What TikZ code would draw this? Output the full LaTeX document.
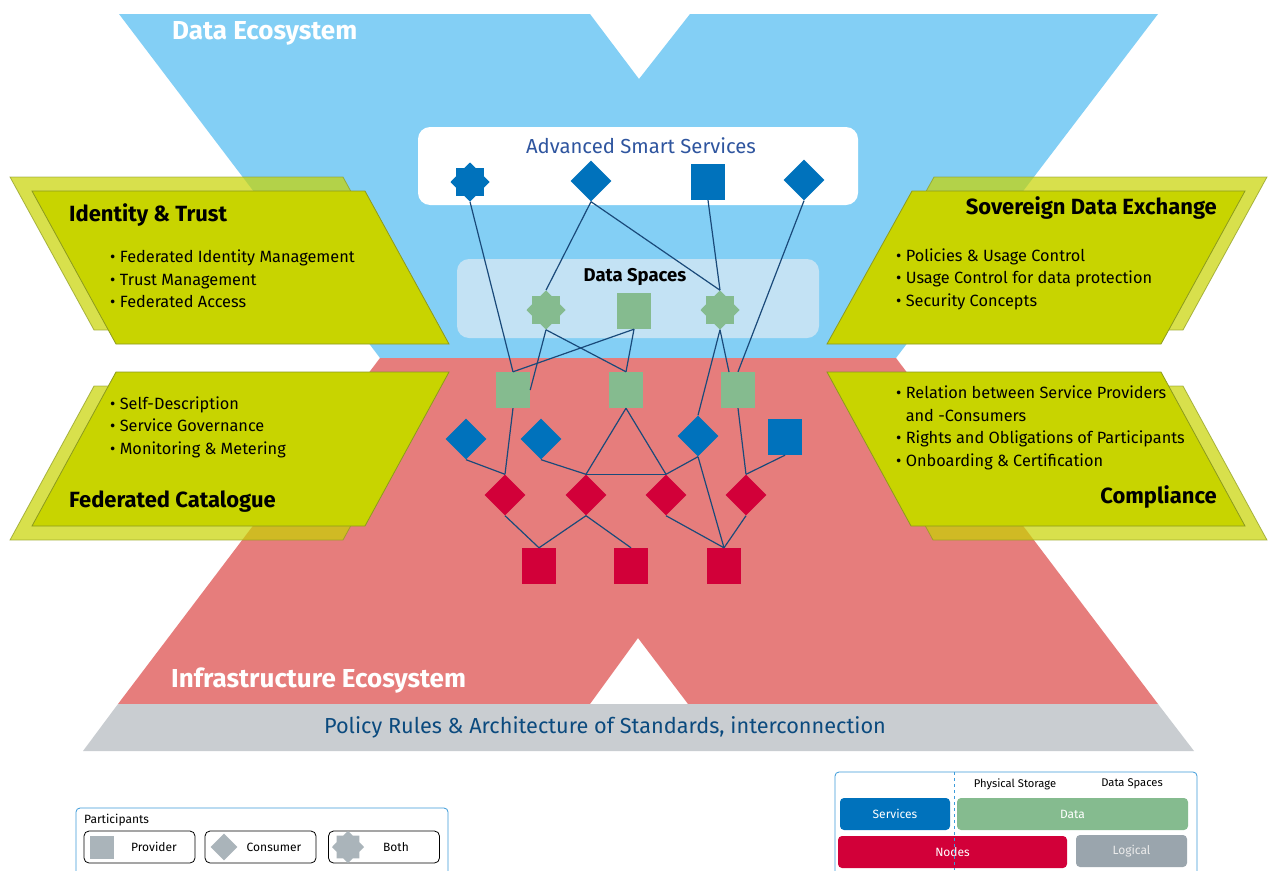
\documentclass[tikz,border=0pt]{standalone}
\usepackage{fontspec}
\setmainfont{Fira Sans}
\usetikzlibrary{shapes.geometric}

\definecolor{ecoBlue}{HTML}{83CFF5}
\definecolor{ecoRed}{HTML}{E67D7C}
\definecolor{barGray}{HTML}{C9CDD1}
\definecolor{pillarGreen}{HTML}{C8D400}
\definecolor{pillarLine}{HTML}{8C9A1E}
\definecolor{svcBlue}{HTML}{0072BC}
\definecolor{dataGreen}{HTML}{85BB8F}
\definecolor{nodeRed}{HTML}{D20039}
\definecolor{dsBlue}{HTML}{C3E2F4}
\definecolor{edgeBlue}{HTML}{1A4A7A}
\definecolor{titleBlue}{HTML}{2F559F}
\definecolor{policyBlue}{HTML}{0B4A7E}
\definecolor{legendLine}{HTML}{3C9BDA}
\definecolor{symGray}{HTML}{AAB4BA}
\definecolor{logicGray}{HTML}{9AA5AD}

\begin{document}
\begin{tikzpicture}[x=1pt,y=-1pt,
  provsq/.style={rectangle,minimum width=34,minimum height=36,inner sep=0},
  consdia/.style={diamond,aspect=1,minimum size=41,inner sep=0},
  bothstar/.style={star,star points=8,star point ratio=1.3,minimum size=39,inner sep=0},
  link/.style={draw=edgeBlue,line width=1.2},
  pillar/.style={fill=pillarGreen,draw=pillarLine,line width=0.8},
  pillarshade/.style={fill=pillarGreen,draw=pillarLine,line width=0.8,opacity=0.7},
  title/.style={font=\fontsize{22}{26}\selectfont\bfseries,inner sep=0},
  items/.style={font=\fontsize{16.3}{22.5}\selectfont,align=left,inner sep=0,anchor=west},
  eco/.style={font=\fontsize{26}{30}\selectfont\bfseries,text=white,inner sep=0,anchor=west},
  keybox/.style={draw,rounded corners=5,line width=0.8,minimum width=111,minimum height=32,inner sep=0},
  keytext/.style={font=\fontsize{12}{14}\selectfont,inner sep=0},
  tag/.style={rounded corners=4,minimum height=32,inner sep=0,font=\fontsize{12}{14}\selectfont,text=white}
]
\path[use as bounding box,clip] (0,0) rectangle (1271,870);
\fill[white] (0,0) rectangle (1271,870);

\fill[ecoBlue] (119,14) -- (590,14) -- (639,79) -- (690,14) -- (1158,14) -- (896,358) -- (380,358) -- cycle;
\fill[ecoRed] (380,358) -- (896,358) -- (1158,704) -- (688,704) -- (638,638) -- (590,704) -- (118,704) -- cycle;
\fill[barGray] (118,704) -- (1158,704) -- (1194,751) -- (83,751) -- cycle;

\node[eco] (dataeco) at (172,33) {Data Ecosystem};
\node[eco] (infraeco) at (171,681) {Infrastructure Ecosystem};
\node[font=\fontsize{21.7}{24}\selectfont,text=policyBlue,inner sep=0] (policy) at (605,727) {Policy Rules \& Architecture of Standards, interconnection};

\fill[white,rounded corners=12] (418,127) rectangle (858,205);
\node[font=\fontsize{20.3}{24}\selectfont,text=titleBlue,inner sep=0] (smart) at (641,146) {Advanced Smart Services};
\fill[dsBlue,rounded corners=12] (457,259) rectangle (819,338);
\node[font=\fontsize{18.5}{22}\selectfont\bfseries,inner sep=0] (dspaces) at (635,277) {Data Spaces};

\path[pillarshade,yshift=14,xshift=-22] (32,191) -- (365,191) -- (449,344) -- (116,344) -- cycle;
\path[pillar] (32,191) -- (365,191) -- (449,344) -- (116,344) -- cycle;
\path[pillarshade,yshift=-14,xshift=-22] (116,372) -- (449,372) -- (365,526) -- (32,526) -- cycle;
\path[pillar] (116,372) -- (449,372) -- (365,526) -- (32,526) -- cycle;
\path[pillarshade,yshift=14,xshift=22] (912,191) -- (1245,191) -- (1161,344) -- (827,344) -- cycle;
\path[pillar] (912,191) -- (1245,191) -- (1161,344) -- (827,344) -- cycle;
\path[pillarshade,yshift=-14,xshift=22] (827,372) -- (1161,372) -- (1245,526) -- (911,526) -- cycle;
\path[pillar] (827,372) -- (1161,372) -- (1245,526) -- (911,526) -- cycle;

\node[title,anchor=west] (idtrust) at (69,215) {Identity \& Trust};
\node[items] (idlist) at (110,279) {\textbullet\ Federated Identity Management\\\textbullet\ Trust Management\\\textbullet\ Federated Access};
\node[items] (catlist) at (110,427) {\textbullet\ Self-Description\\\textbullet\ Service Governance\\\textbullet\ Monitoring \& Metering};
\node[title,anchor=west] (catalogue) at (69,502) {Federated Catalogue};
\node[title,anchor=east] (sovereign) at (1217,208) {Sovereign Data Exchange};
\node[items] (sovlist) at (896,279) {\textbullet\ Policies \& Usage Control\\\textbullet\ Usage Control for data protection\\\textbullet\ Security Concepts};
\node[items] (complist) at (896,428) {\textbullet\ Relation between Service Providers\\\phantom{\textbullet\ }and -Consumers\\\textbullet\ Rights and Obligations of Participants\\\textbullet\ Onboarding \& Certification};
\node[title,anchor=east] (compliance) at (1217,497) {Compliance};

\node[bothstar,fill=svcBlue] (sv1) at (470,182) {};
\node[consdia,fill=svcBlue] (sv2) at (591,181) {};
\node[provsq,fill=svcBlue] (sv3) at (708,182) {};
\node[consdia,fill=svcBlue] (sv4) at (804,180) {};

\node[bothstar,fill=dataGreen] (ds1) at (546,310) {};
\node[provsq,fill=dataGreen] (ds2) at (634,311) {};
\node[bothstar,fill=dataGreen] (ds3) at (720,310) {};

\node[provsq,fill=dataGreen] (st1) at (513,390) {};
\node[provsq,fill=dataGreen] (st2) at (626,390) {};
\node[provsq,fill=dataGreen] (st3) at (738,390) {};

\node[consdia,fill=svcBlue] (se1) at (466,439) {};
\node[consdia,fill=svcBlue] (se2) at (541,439) {};
\node[consdia,fill=svcBlue] (se3) at (698,436) {};
\node[provsq,fill=svcBlue] (se4) at (785,437) {};

\foreach \n/\x in {nd1/505,nd2/586,nd3/666,nd4/746}
  \node[consdia,fill=nodeRed] (\n) at (\x,495) {};
\foreach \n/\x in {ns1/539,ns2/631,ns3/724}
  \node[provsq,fill=nodeRed] (\n) at (\x,566) {};

\coordinate (st3in) at (729,372);
\foreach \a/\b in {sv1.south/st1.north,sv2.south/ds1.north,sv2.south/ds3.north,sv3.south/ds3.north,
  sv4.south/st3.north,ds1.south/st1.east,ds1.south/st2.north,ds2.south/st1.north,ds2.south/st2.north,
  ds3.south/se3.north,ds3.south/st3in,st1.south/nd1.north,se1.south/nd1.north,se2.south/nd2.north,
  st2.south/nd2.north,st2.south/nd3.north,nd2.north/nd3.north,se3.south/nd3.north,se3.south/ns3.north,
  st3.south/nd4.north,se4.south/nd4.north,nd1.south/ns1.north,nd2.south/ns1.north,nd2.south/ns2.north,
  nd3.south/ns3.north,nd4.south/ns3.north}
  \draw[link] (\a) -- (\b);

\draw[legendLine,rounded corners=4,line width=0.8] (76,808) rectangle (448,890);
\node[keytext,anchor=west] (parts) at (84,820) {Participants};
\node[keybox] (kprov) at (139.5,847) {};
\node[keybox] (kcons) at (260.5,847) {};
\node[keybox] (kboth) at (384,847) {};
\node[provsq,fill=symGray,minimum width=24,minimum height=23] (gprov) at (102,847.5) {};
\node[consdia,fill=symGray,minimum size=27] (gcons) at (224,847) {};
\node[bothstar,fill=symGray,minimum size=32] (gboth) at (348,847) {};
\node[keytext] (tprov) at (154,847) {Provider};
\node[keytext] (tcons) at (274,847) {Consumer};
\node[keytext] (tboth) at (396,847) {Both};

\draw[legendLine,rounded corners=4,line width=0.8] (835,772) rectangle (1197,890);
\node[keytext,font=\fontsize{11.2}{13}\selectfont] (tphys) at (1015,784) {Physical Storage};
\node[keytext,font=\fontsize{11.2}{13}\selectfont] (tdsp) at (1132,784) {Data Spaces};
\node[tag,fill=svcBlue,minimum width=110] (kserv) at (895,814) {Services};
\node[tag,fill=dataGreen,minimum width=231] (kdata) at (1072.5,814) {Data};
\node[tag,fill=nodeRed,minimum width=229] (knodes) at (952.5,852) {Nodes};
\node[tag,fill=logicGray,minimum width=111,text=white!92!black] (klog) at (1131.5,851) {Logical};
\draw[legendLine,dashed,line width=0.8] (954,772) -- (954,870);
\end{tikzpicture}
\end{document}
